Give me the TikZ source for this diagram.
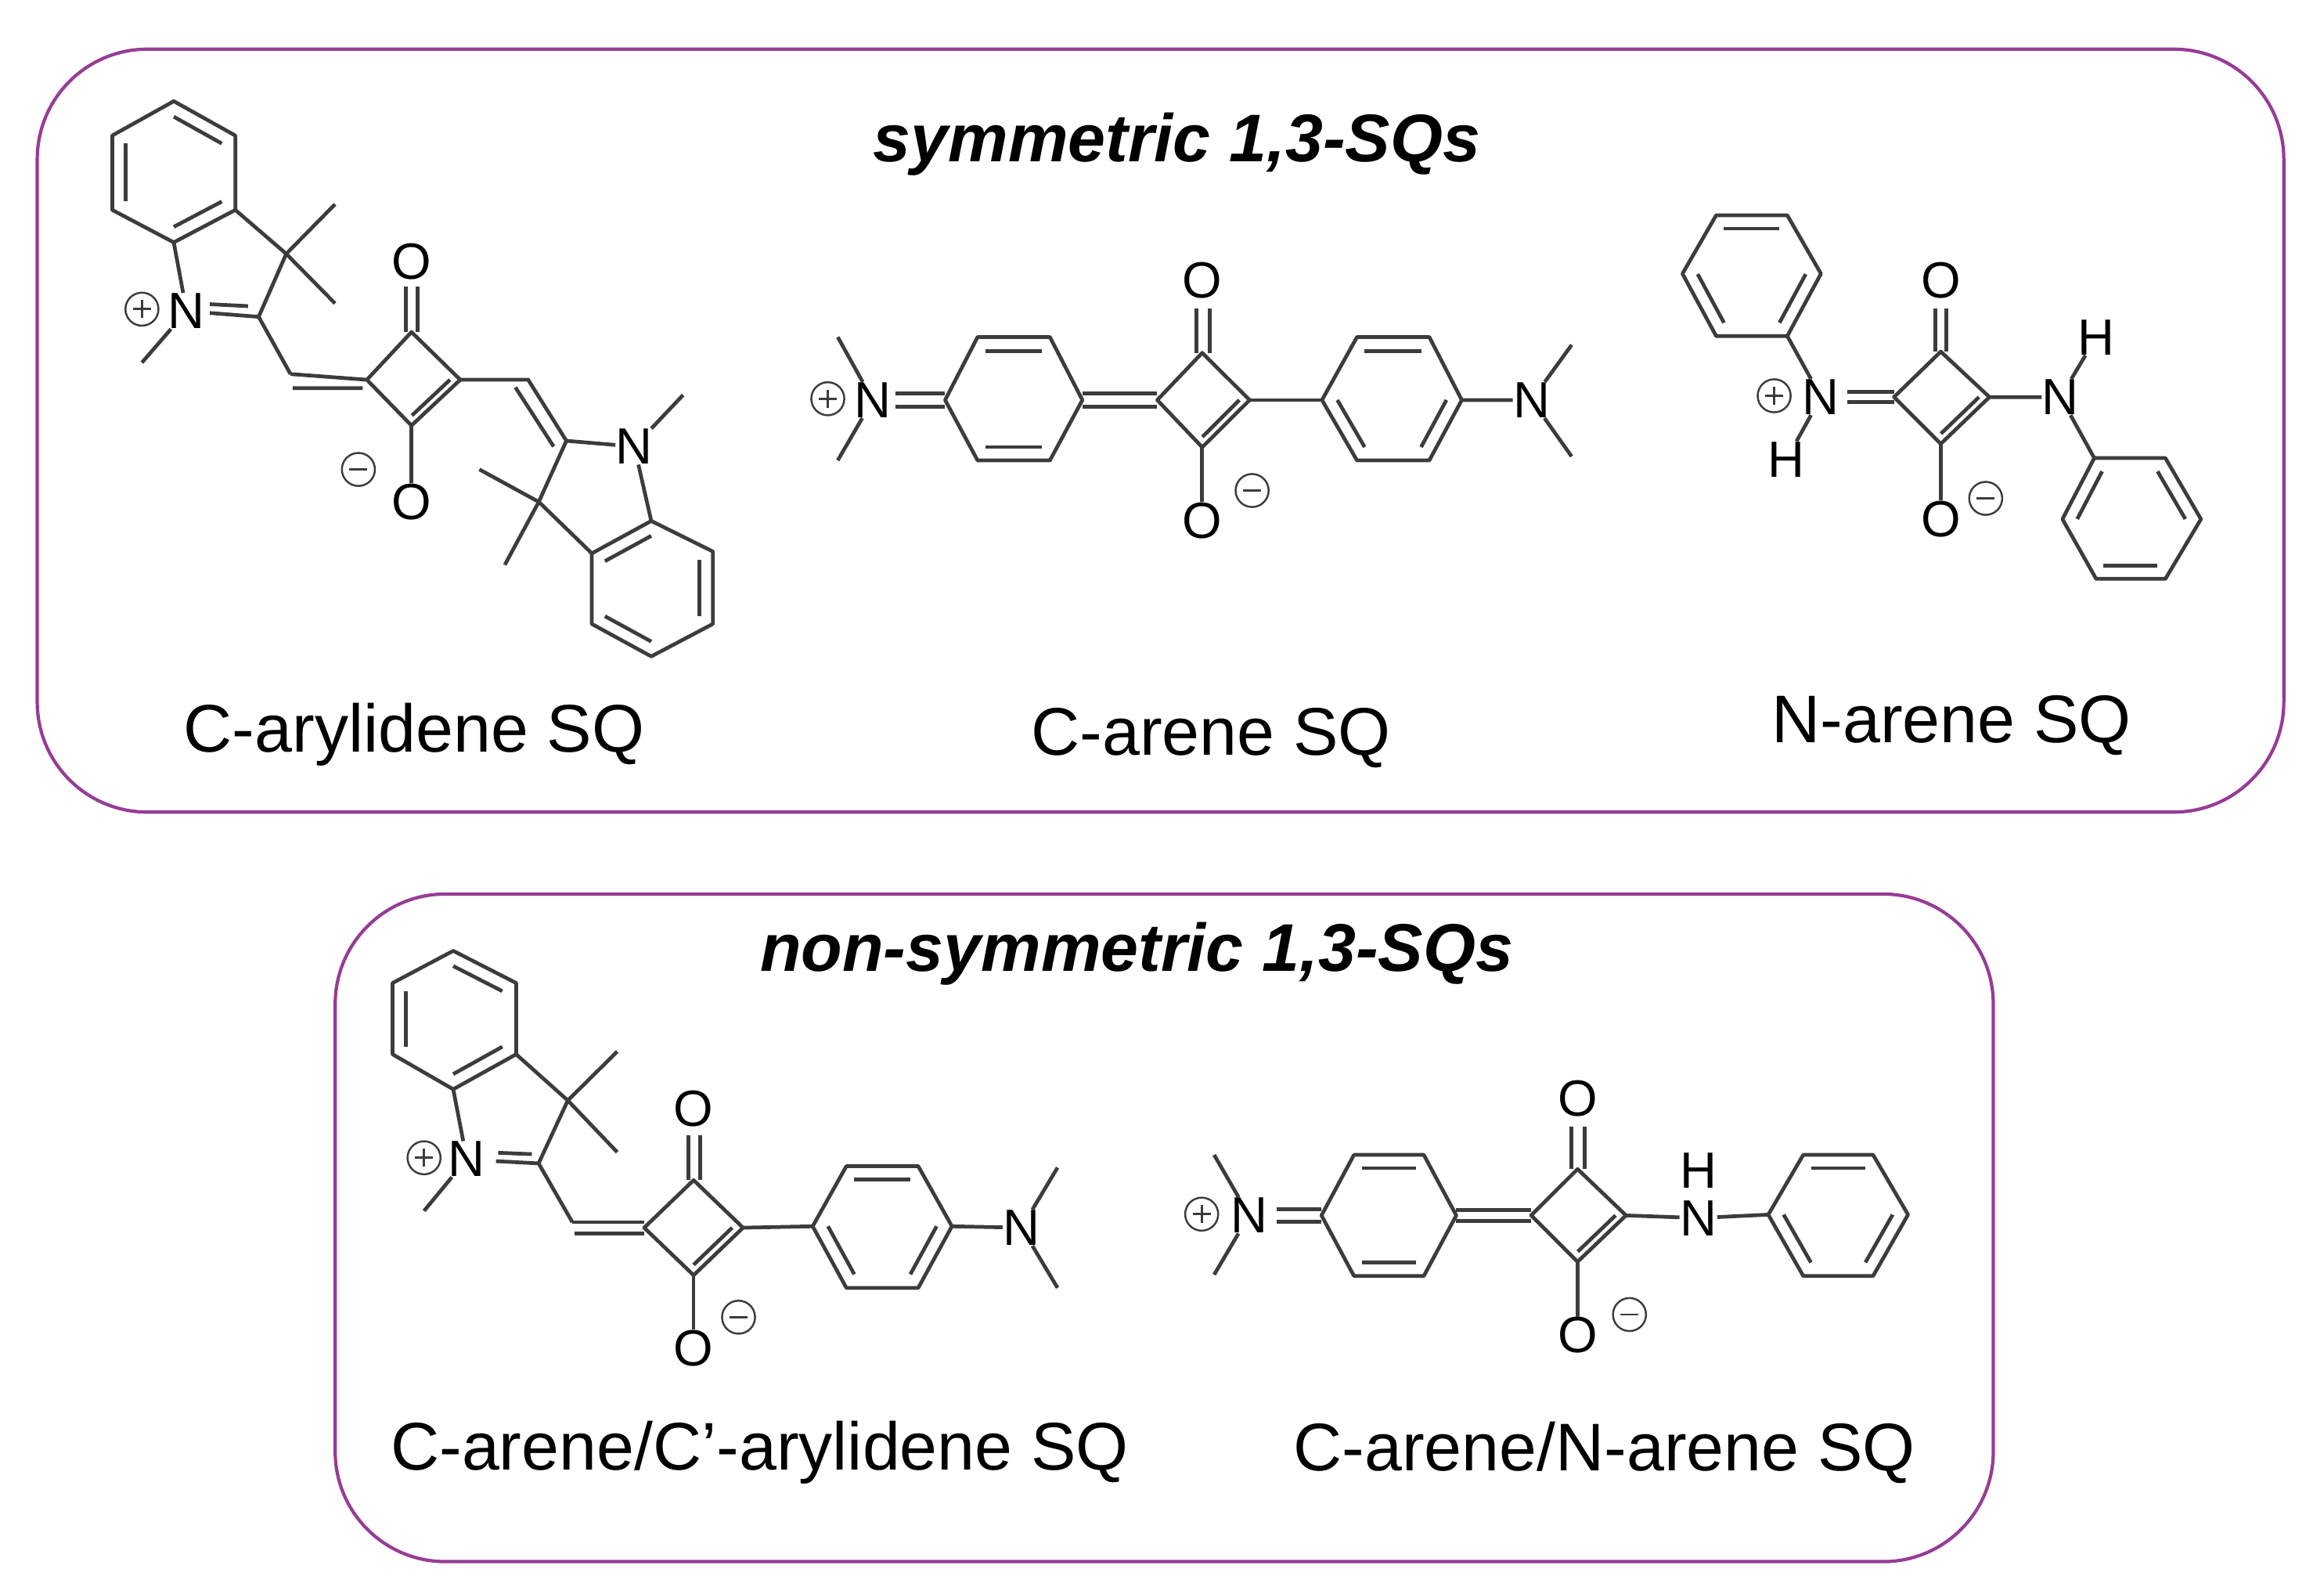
\documentclass[tikz,border=0pt]{standalone}
\usepackage{fontspec}
\setmainfont{Liberation Sans}
\usetikzlibrary{calc}
\definecolor{boxc}{RGB}{150,60,150}
\definecolor{bondc}{RGB}{60,60,60}
\tikzset{
  bond/.style={draw=bondc,line width=1.35pt},
  atom/.style={inner sep=0pt,font=\fontsize{18.5}{18.5}\selectfont},
  lbl/.style={inner sep=0pt,font=\fontsize{24.5}{26}\selectfont},
  ttl/.style={inner sep=0pt,font=\fontsize{24.5}{26}\selectfont\bfseries\itshape},
  frame/.style={draw=boxc,line width=1.2pt,rounded corners=40pt},
  chg/.style={circle,draw=bondc,line width=0.7pt,minimum size=12pt,inner sep=0pt}
}
\newcommand\inner[3]{\draw[bond] ($(#1)!0.22!(#3)$) -- ($(#2)!0.22!(#3)$);}
\newcommand\pch[2]{\node[chg] (#1) at (#2) {};
  \draw[line width=0.8pt,bondc] ([xshift=-3.3pt]#1.center) -- ([xshift=3.3pt]#1.center) ([yshift=-3.3pt]#1.center) -- ([yshift=3.3pt]#1.center);}
\newcommand\mch[2]{\node[chg] (#1) at (#2) {};
  \draw[line width=0.8pt,bondc] ([xshift=-3.3pt]#1.center) -- ([xshift=3.3pt]#1.center);}
\newcommand\hexa[7]{% prefix, then 6 vertices
  \coordinate (#1a) at (#2); \coordinate (#1b) at (#3); \coordinate (#1c) at (#4);
  \coordinate (#1d) at (#5); \coordinate (#1e) at (#6); \coordinate (#1f) at (#7);
  \coordinate (#1o) at ($(#1a)!0.5!(#1d)$);
  \draw[bond,line join=round] (#1a)--(#1b)--(#1c)--(#1d)--(#1e)--(#1f)--cycle;}
\begin{document}
\begin{tikzpicture}[x=0.01903cm,y=-0.01903cm]
\useasboundingbox (0,0) rectangle (1560,1064.6);
\fill[white] (0,0) rectangle (1560,1064.6);
\draw[frame] (25,33) rectangle (1533,545);
\draw[frame] (225,600) rectangle (1338,1048);
\node[ttl] (t1) at (790,97) {symmetric 1,3-SQs};
\node[ttl] (t2) at (763,640) {non-symmetric 1,3-SQs};
\node[lbl] (l1) at (278,493) {C-arylidene SQ};
\node[lbl] (l2) at (813,495) {C-arene SQ};
\node[lbl] (l3) at (1310,487) {N-arene SQ};
\node[lbl] (l4) at (510,975) {C-arene/C’-arylidene SQ};
\node[lbl] (l5) at (1077,975) {C-arene/N-arene SQ};

% ---------- Mol A: C-arylidene ----------
\begin{scope}[shift={(52.55,52.55)},x=0.2849*0.01903cm,y=-0.2561*0.01903cm]
\hexa{A1}{225,60}{370,150}{370,345}{225,430}{80,345}{80,150}
\inner{A1a}{A1b}{A1o}\inner{A1e}{A1f}{A1o}\inner{A1c}{A1d}{A1o}
\coordinate (A3) at (490,460); \coordinate (A2) at (425,625);
\node[atom] (AN) at (255,610) {N};
\pch{AP}{150,605}
\draw[bond] (A1c)--(A3)--(A2);
\draw[bond] (A3)--(605,330) (A3)--(605,590);
\draw[bond] (A1d)--(AN);
\draw[bond] (AN)--(150,745);
\draw[bond] (310,592)--(400,597) (310,615)--(A2);
\coordinate (AC) at (500,775);
\draw[bond] (A2)--(AC);
\coordinate (Sl) at (680,790); \coordinate (St) at (785,665);
\coordinate (Sr) at (900,790); \coordinate (Sb) at (785,910);
\coordinate (So) at (790,790);
\draw[bond,line join=round] (Sl)--(St)--(Sr)--(Sb)--cycle;
\inner{Sr}{Sb}{So}
\draw[bond] (AC)--(Sl) (505,812)--(670,812);
\node[atom] (AO1) at (785,480) {O};
\node[atom] (AO2) at (785,1110) {O};
\draw[bond] (772,665)--(772,545) (800,665)--(800,545);
\draw[bond] (Sb)--(AO2);
\mch{AM}{660,1025}
\coordinate (AD) at (1060,790); \coordinate (A2b) at (1150,950);
\draw[bond] (Sr)--(AD)--(A2b) (1030,810)--(1120,965);
\node[atom] (AN2) at (1310,965) {N};
\draw[bond] (A2b)--(AN2) (AN2)--(1425,830);
\coordinate (A3b) at (1085,1110);
\draw[bond] (A2b)--(A3b) (A3b)--(945,1025) (A3b)--(1005,1275);
\hexa{A2r}{1350,1160}{1495,1240}{1495,1430}{1350,1515}{1210,1430}{1210,1245}
\inner{A2ra}{A2rf}{A2ro}\inner{A2rb}{A2rc}{A2ro}\inner{A2rd}{A2re}{A2ro}
\draw[bond] (A3b)--(A2rf) (AN2)--(A2ra);
\end{scope}

% ---------- Mol B: C-arene ----------
\begin{scope}[shift={(525.5,157.6)},x=0.3351*0.01903cm,y=-0.176*0.01903cm]
\node[atom] (BN1) at (180,630) {N};
\pch{BP}{90,625}
\draw[bond] (BN1)--(110,390) (BN1)--(110,860);
\hexa{B1}{325,630}{390,390}{535,390}{600,630}{535,860}{390,860}
\inner{B1b}{B1c}{B1o}\inner{B1e}{B1f}{B1o}
\draw[bond] (225,605)--(325,605) (225,655)--(325,655);
\coordinate (BSl) at (750,630); \coordinate (BSt) at (840,450);
\coordinate (BSr) at (935,630); \coordinate (BSb) at (840,810);
\coordinate (BSo) at (842,630);
\draw[bond,line join=round] (BSl)--(BSt)--(BSr)--(BSb)--cycle;
\inner{BSr}{BSb}{BSo}
\draw[bond] (600,605)--(750,605) (600,655)--(750,655);
\node[atom] (BO1) at (840,175) {O};
\node[atom] (BO2) at (840,1090) {O};
\draw[bond] (828,280)--(828,450) (855,280)--(855,450);
\draw[bond] (BSb)--(BO2);
\mch{BM}{940,975}
\hexa{B2}{1080,630}{1150,390}{1295,390}{1360,630}{1295,860}{1150,860}
\inner{B2b}{B2c}{B2o}\inner{B2a}{B2f}{B2o}\inner{B2d}{B2e}{B2o}
\draw[bond] (BSr)--(B2a);
\node[atom] (BN2) at (1500,630) {N};
\draw[bond] (B2d)--(BN2) (BN2)--(1580,420) (BN2)--(1580,845);
\end{scope}

% ---------- Mol C: N-arene ----------
\begin{scope}[shift={(1119.3,131.4)},x=0.2513*0.01903cm,y=-0.1743*0.01903cm]
\hexa{C1}{130,75}{320,75}{410,300}{320,540}{130,540}{40,300}
\inner{C1a}{C1b}{C1o}\inner{C1c}{C1d}{C1o}\inner{C1e}{C1f}{C1o}
\node[atom] (CN1) at (410,775) {N};
\pch{CP}{285,770}
\node[atom] (CH1) at (318,1015) {H};
\draw[bond] (C1d)--(CN1) (CN1)--(CH1);
\coordinate (CSl) at (605,775); \coordinate (CSt) at (730,600);
\coordinate (CSr) at (860,775); \coordinate (CSb) at (730,955);
\coordinate (CSo) at (732,777);
\draw[bond,line join=round] (CSl)--(CSt)--(CSr)--(CSb)--cycle;
\inner{CSr}{CSb}{CSo}
\draw[bond] (480,755)--(605,755) (480,795)--(605,795);
\node[atom] (CO1) at (730,325) {O};
\node[atom] (CO2) at (730,1245) {O};
\draw[bond] (715,435)--(715,600) (745,435)--(745,600);
\draw[bond] (CSb)--(CO2);
\mch{CM}{850,1165}
\node[atom] (CN2) at (1050,775) {N};
\node[atom] (CH2) at (1145,545) {H};
\draw[bond] (CSr)--(CN2) (CN2)--(CH2);
\hexa{C2}{1140,1010}{1330,1010}{1425,1245}{1330,1475}{1145,1475}{1055,1245}
\inner{C2f}{C2a}{C2o}\inner{C2b}{C2c}{C2o}\inner{C2d}{C2e}{C2o}
\draw[bond] (CN2)--(C2a);
\end{scope}

% ---------- Mol D: C-arene/C'-arylidene ----------
\begin{scope}[shift={(257.5,630.6)},x=0.3016*0.01903cm,y=-0.1877*0.01903cm]
\hexa{D1}{155,40}{295,155}{295,410}{155,535}{20,410}{20,155}
\inner{D1a}{D1b}{D1o}\inner{D1e}{D1f}{D1o}\inner{D1c}{D1d}{D1o}
\coordinate (D3) at (410,575); \coordinate (D2) at (345,800);
\draw[bond] (D1c)--(D3)--(D2) (D3)--(520,400) (D3)--(520,760);
\node[atom] (DN) at (185,785) {N};
\pch{DP}{90,780}
\draw[bond] (D1d)--(DN) (DN)--(90,970);
\draw[bond] (255,762)--(330,767) (250,792)--(D2);
\coordinate (DC) at (420,1010);
\draw[bond] (D2)--(DC);
\coordinate (DSl) at (580,1030); \coordinate (DSt) at (690,860);
\coordinate (DSr) at (800,1030); \coordinate (DSb) at (690,1200);
\coordinate (DSo) at (690,1030);
\draw[bond,line join=round] (DSl)--(DSt)--(DSr)--(DSb)--cycle;
\inner{DSr}{DSb}{DSo}
\draw[bond] (DC)--(580,1010) (425,1050)--(580,1050);
\node[atom] (DO1) at (690,605) {O};
\node[atom] (DO2) at (690,1460) {O};
\draw[bond] (678,700)--(678,860) (705,700)--(705,860);
\draw[bond] (DSb)--(DO2);
\mch{DM}{790,1350}
\hexa{D2r}{955,1025}{1030,810}{1190,810}{1265,1025}{1190,1245}{1030,1245}
\inner{D2rb}{D2rc}{D2ro}\inner{D2ra}{D2rf}{D2ro}\inner{D2rd}{D2re}{D2ro}
\draw[bond] (DSr)--(D2ra);
\node[atom] (DN2) at (1420,1030) {N};
\draw[bond] (D2rd)--(DN2) (DN2)--(1500,815) (DN2)--(1500,1245);
\end{scope}

% ---------- Mol E: C-arene/N-arene ----------
\begin{scope}[shift={(788.2,709.4)},x=0.3351*0.01903cm,y=-0.1728*0.01903cm]
\node[atom] (EN1) at (150,615) {N};
\pch{EP}{55,610}
\draw[bond] (EN1)--(80,380) (EN1)--(80,845);
\hexa{E1}{295,615}{360,380}{500,380}{565,615}{500,850}{360,850}
\inner{E1b}{E1c}{E1o}\inner{E1e}{E1f}{E1o}
\draw[bond] (205,590)--(295,590) (205,640)--(295,640);
\coordinate (ESl) at (715,615); \coordinate (ESt) at (808,435);
\coordinate (ESr) at (905,615); \coordinate (ESb) at (808,795);
\coordinate (ESo) at (810,615);
\draw[bond,line join=round] (ESl)--(ESt)--(ESr)--(ESb)--cycle;
\inner{ESr}{ESb}{ESo}
\draw[bond] (565,595)--(715,595) (565,637)--(715,637);
\node[atom] (EO1) at (808,160) {O};
\node[atom] (EO2) at (808,1080) {O};
\draw[bond] (795,270)--(795,435) (822,270)--(822,435);
\draw[bond] (ESb)--(EO2);
\mch{EM}{912,1000}
\node[atom] (EN2) at (1050,625) {N};
\node[atom] (EH) at (1050,440) {H};
\draw[bond] (ESr)--(EN2);
\hexa{E2}{1190,612}{1260,380}{1400,380}{1470,612}{1400,850}{1260,850}
\inner{E2b}{E2c}{E2o}\inner{E2a}{E2f}{E2o}\inner{E2d}{E2e}{E2o}
\draw[bond] (EN2)--(E2a);
\end{scope}
\end{tikzpicture}
\end{document}
